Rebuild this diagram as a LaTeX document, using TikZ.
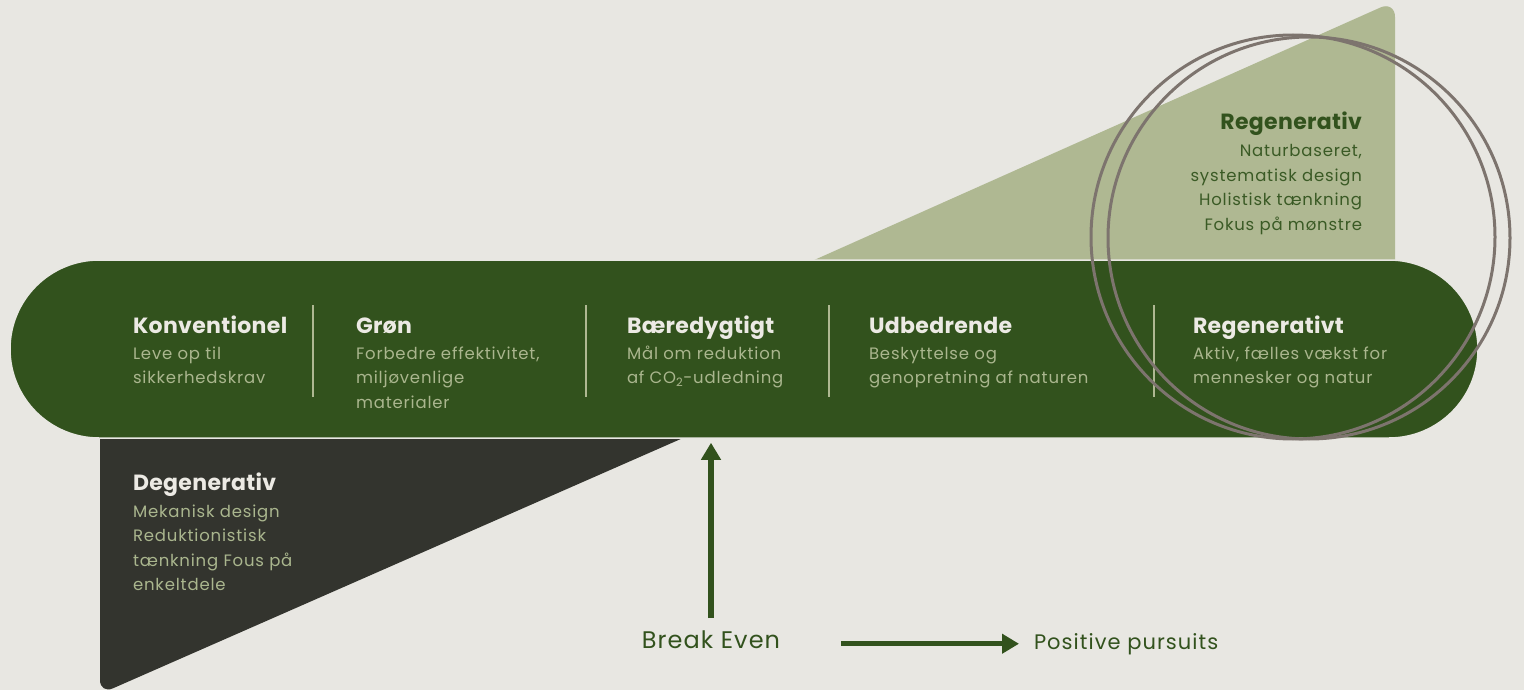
\documentclass[tikz,border=0pt]{standalone}
\usepackage{fontspec}
\setmainfont{Poppins}
\usetikzlibrary{arrows.meta}
\definecolor{bg}{HTML}{E8E7E2}
\definecolor{band}{HTML}{32521D}
\definecolor{lightg}{HTML}{AFB892}
\definecolor{darkt}{HTML}{33342E}
\definecolor{ring}{HTML}{7D746E}
\definecolor{titlel}{HTML}{ECEAE4}
\definecolor{bodyl}{HTML}{AAB68E}
\definecolor{bodyd}{HTML}{3A5A25}
\newcommand\hdl[1]{{\color{titlel}\fontsize{22}{25}\selectfont\bfseries\addfontfeature{LetterSpace=1.5}#1}}
\newcommand\hdd[1]{{\color{band}\fontsize{22}{25}\selectfont\bfseries\addfontfeature{LetterSpace=1.5}#1}}
\newcommand\bodyfont{\fontsize{16.5}{24.5}\selectfont\addfontfeature{LetterSpace=5}}
\tikzset{
  txt/.style={inner sep=0pt, outer sep=0pt},
  divider/.style={draw=lightg, line width=1.5pt},
  ringline/.style={draw=ring, line width=3pt},
  arrowline/.style={draw=band, line width=6pt, -{Triangle[width=19pt,length=17pt]}},
}
\begin{document}
\begin{tikzpicture}[x=1pt,y=-1pt]
\useasboundingbox (0,0) rectangle (1524,690);
\fill[bg] (0,0) rectangle (1524,690);
% light green triangle
\fill[lightg] (812,261) [rounded corners=16pt] -- (1395,1) [sharp corners] -- (1395,261) -- cycle;
% dark triangle
\fill[darkt] (683,438) -- (100,438) [rounded corners=14pt] -- (100,694) [sharp corners] -- cycle;
% band
\node[rectangle, rounded corners=89pt, minimum width=1468pt, minimum height=178pt,
      fill=band, draw=bg, line width=1.5pt, inner sep=0pt] (bandn) at (744,349) {};
% dividers
\foreach \x in {313,586,829,1154} \draw[divider] (\x,305) -- (\x,397);
% column texts
\node[txt, text=bodyl, anchor=base west] (konv) at (133,333) {\bodyfont\begin{tabular}[t]{@{}l@{}}\hdl{Konventionel}\\[1.5pt] Leve op til\\ sikkerhedskrav\end{tabular}};
\node[txt, text=bodyl, anchor=base west] (gron) at (356,333) {\bodyfont\begin{tabular}[t]{@{}l@{}}\hdl{Grøn}\\[1.5pt] Forbedre effektivitet,\\ miljøvenlige\\ materialer\end{tabular}};
\node[txt, text=bodyl, anchor=base west] (baer) at (627,333) {\bodyfont\begin{tabular}[t]{@{}l@{}}\hdl{Bæredygtigt}\\[1.5pt] Mål om reduktion\\ af CO\textsubscript{2}-udledning\end{tabular}};
\node[txt, text=bodyl, anchor=base west] (udb) at (869,333) {\bodyfont\begin{tabular}[t]{@{}l@{}}\hdl{Udbedrende}\\[1.5pt] Beskyttelse og\\ genopretning af naturen\end{tabular}};
\node[txt, text=bodyl, anchor=base west] (regt) at (1193,333) {\bodyfont\begin{tabular}[t]{@{}l@{}}\hdl{Regenerativt}\\[1.5pt] Aktiv, fælles vækst for\\ mennesker og natur\end{tabular}};
% top right text
\node[txt, text=bodyd, anchor=base east] (regv) at (1362,130) {\bodyfont\begin{tabular}[t]{@{}r@{}}\hdd{Regenerativ}\\[2.5pt] Naturbaseret,\\ systematisk design\\ Holistisk tænkning\\ Fokus på mønstre\end{tabular}};
% degenerativ
\node[txt, text=bodyl, anchor=base west] (degen) at (133,490) {\bodyfont\begin{tabular}[t]{@{}l@{}}\hdl{Degenerativ}\\[2.5pt] Mekanisk design\\ Reduktionistisk\\ tænkning Fous på\\ enkeltdele\end{tabular}};
% circles
\draw[ringline] (1293,237) circle (202pt);
\draw[ringline] (1309,238) circle (201pt);
% bottom labels and arrows
\node[txt, text=band, anchor=base, font=\fontsize{24}{28}\selectfont\addfontfeature{LetterSpace=4.5}] (be) at (711,648) {Break Even};
\node[txt, text=band, anchor=base west, font=\fontsize{21}{25}\selectfont\addfontfeature{LetterSpace=5}] (pp) at (1034,649) {Positive pursuits};
\coordinate (beTop) at (711,618);
\draw[arrowline, shorten >=4pt] (beTop) -- (beTop |- bandn.south);
\draw[arrowline, line width=5.5pt, shorten <=61pt, shorten >=15pt] (be.east |- pp.west) -- (pp.west);
\end{tikzpicture}
\end{document}
